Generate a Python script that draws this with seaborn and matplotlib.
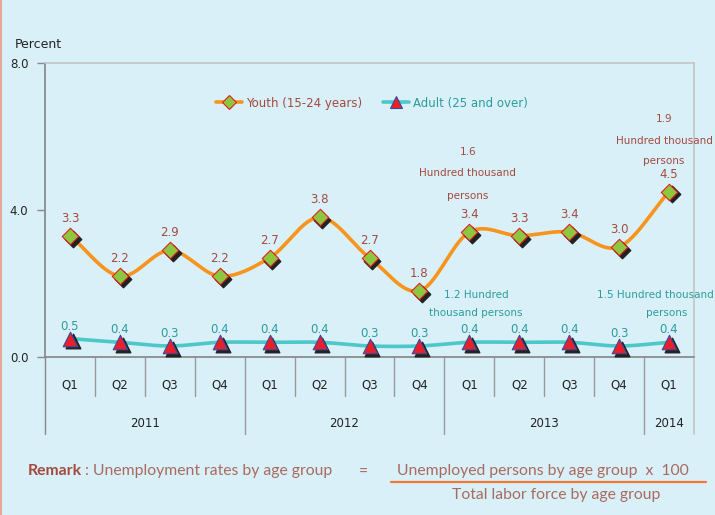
import numpy as np
import pandas as pd
import seaborn as sns
import matplotlib
matplotlib.use("Agg")
import matplotlib.pyplot as plt
from matplotlib import transforms
from matplotlib.lines import Line2D

quarters = ["Q1", "Q2", "Q3", "Q4", "Q1", "Q2", "Q3", "Q4", "Q1", "Q2", "Q3", "Q4", "Q1"]
years = ["2011", "2012", "2013", "2014"]
year_spans = [(0, 3), (4, 7), (8, 11), (12, 12)]
youth = [3.3, 2.2, 2.9, 2.2, 2.7, 3.8, 2.7, 1.8, 3.4, 3.3, 3.4, 3.0, 4.5]
adult = [0.5, 0.4, 0.3, 0.4, 0.4, 0.4, 0.3, 0.3, 0.4, 0.4, 0.4, 0.3, 0.4]
yticks = [0.0, 4.0, 8.0]
youth_notes = [["1.6", "Hundred thousand", "persons"], ["1.9", "Hundred thousand", "persons"]]
adult_notes = [["1.2 Hundred", "thousand persons"], ["1.5 Hundred thousand", "persons"]]

BG = "#DAF0F8"
ORANGE = "#F7941D"
TEAL = "#4CC8C8"
YCOL = "#A24A3E"
ACOL = "#2A9C9C"
RCOL = "#A86A5E"

sns.set_theme(style="white")
plt.rcParams["font.family"] = ["DejaVu Sans"]

fig = plt.figure(figsize=(7.15, 5.15), dpi=100)
fig.patch.set_facecolor(BG)
ax = fig.add_axes([45 / 715, (515 - 357) / 515, (694 - 45) / 715, (357 - 63) / 515])
ax.set_facecolor(BG)

x = np.arange(len(quarters))


def smooth(xs, ys, n=20):
    xs = np.asarray(xs, float)
    ys = np.asarray(ys, float)
    px = np.concatenate([[2 * xs[0] - xs[1]], xs, [2 * xs[-1] - xs[-2]]])
    py = np.concatenate([[2 * ys[0] - ys[1]], ys, [2 * ys[-1] - ys[-2]]])
    ox, oy = [], []
    for i in range(1, len(px) - 2):
        t = np.linspace(0, 1, n, endpoint=False)
        for arr, out in ((px, ox), (py, oy)):
            p0, p1, p2, p3 = arr[i - 1], arr[i], arr[i + 1], arr[i + 2]
            out.extend(0.5 * ((2 * p1) + (-p0 + p2) * t + (2 * p0 - 5 * p1 + 4 * p2 - p3) * t ** 2
                              + (-p0 + 3 * p1 - 3 * p2 + p3) * t ** 3))
    ox.append(xs[-1]); oy.append(ys[-1])
    return np.array(ox), np.array(oy)


for vals, col in ((youth, ORANGE), (adult, TEAL)):
    sx, sy = smooth(x, vals)
    sns.lineplot(x=sx, y=sy, ax=ax, color=col, lw=2.6, sort=False, zorder=2)

shadow = transforms.offset_copy(ax.transData, fig=fig, x=2, y=-2, units="points")
df = pd.DataFrame({"x": x, "youth": youth, "adult": adult})
ax.scatter(df.x, df.youth, marker="D", s=70, color="#222222", transform=shadow, zorder=3)
sns.scatterplot(data=df, x="x", y="youth", ax=ax, marker="D", s=70, color="#8DC63F",
                edgecolor="#E02020", linewidth=0.8, zorder=4)
ax.scatter(df.x, df.adult, marker="^", s=110, color="#222222", transform=shadow, zorder=3)
sns.scatterplot(data=df, x="x", y="adult", ax=ax, marker="^", s=110, color="#E8202A",
                edgecolor="#3A4AA0", linewidth=0.8, zorder=4)

for xi, v in zip(x, youth):
    ax.text(xi, v + 0.3, f"{v:.1f}", ha="center", va="bottom", fontsize=8.5, color=YCOL)
for xi, v in zip(x, adult):
    ax.text(xi, v + 0.16, f"{v:.1f}", ha="center", va="bottom", fontsize=8.5, color=ACOL)

note_pos_y = [([7.97] * 3, [5.57, 5.00, 4.37]), ([11.9] * 3, [6.47, 5.87, 5.32])]
for lines, (xs_, ys_) in zip(youth_notes, note_pos_y):
    for s, xx, yy in zip(lines, xs_, ys_):
        ax.text(xx, yy, s, ha="center", va="center", fontsize=7.5, color=YCOL, clip_on=False)
note_pos_a = [([8.13, 8.13], [1.69, 1.20]), ([11.72, 11.95], [1.69, 1.20])]
for lines, (xs_, ys_) in zip(adult_notes, note_pos_a):
    for s, xx, yy in zip(lines, xs_, ys_):
        ax.text(xx, yy, s, ha="center", va="center", fontsize=7.5, color=ACOL, clip_on=False)

ax.set_xlim(-0.5, 12.5)
ax.set_ylim(0, 8)
ax.set_yticks(yticks)
ax.set_yticklabels([f"{t:.1f}" for t in yticks], fontsize=8.5, color="#222222")
ax.tick_params(axis="y", length=6, width=1, color="#888888", pad=6, left=True)
ax.set_xticks([])
ax.set_xlabel("")
ax.set_ylabel("")
ax.spines["top"].set_color("#C4C4C4")
ax.spines["top"].set_linewidth(1.2)
ax.spines["left"].set_color("#888888")
ax.spines["bottom"].set_color("#888888")
ax.spines["right"].set_visible(False)

tr = transforms.blended_transform_factory(ax.transData, ax.transAxes)
ax.add_line(Line2D([12.5, 12.5], [-0.263, 1.0], transform=tr, color="#C4C4C4", lw=1.2, clip_on=False))
year_bounds = {-0.5, 3.5, 7.5, 11.5}
for b in np.arange(-0.5, 12.0, 1.0):
    if b == -0.5:
        ax.add_line(Line2D([b, b], [-0.263, 0], transform=tr, color="#888888", lw=1, clip_on=False))
    elif b in year_bounds:
        ax.add_line(Line2D([b, b], [-0.263, 0], transform=tr, color="#999999", lw=1, clip_on=False))
    else:
        ax.add_line(Line2D([b, b], [-0.133, 0], transform=tr, color="#999999", lw=1, clip_on=False))
for xi, q in zip(x, quarters):
    ax.text(xi, -0.096, q, transform=tr, ha="center", va="center", fontsize=8.5, color="#222222")
for yr, (a, b) in zip(years, year_spans):
    ax.text((a + b) / 2, -0.225, yr, transform=tr, ha="center", va="center", fontsize=8.5, color="#222222")

fig.text(15 / 715, 1 - 44 / 515, "Percent", ha="left", va="center", fontsize=9, color="#222222")

handles = [
    Line2D([], [], color=ORANGE, lw=2.6, marker="D", markersize=7, markerfacecolor="#8DC63F",
           markeredgecolor="#E02020", markeredgewidth=0.8),
    Line2D([], [], color=TEAL, lw=2.6, marker="^", markersize=9, markerfacecolor="#E8202A",
           markeredgecolor="#3A4AA0", markeredgewidth=0.8),
]
ax.legend(handles, ["Youth (15-24 years)", "Adult (25 and over)"], loc="center",
          bbox_to_anchor=(372 / 715, 1 - 103 / 515), bbox_transform=fig.transFigure, ncol=2,
          frameon=False, fontsize=8.5, labelcolor=[YCOL, ACOL], handlelength=2.2,
          handletextpad=0.3, columnspacing=1.8)

RF = ["Lato", "DejaVu Sans"]
RS = 11.3
yr_ = 1 - 471 / 515
fig.text(28 / 715, yr_, "Remark", ha="left", va="center", fontsize=RS,
         color="#A24A3E", fontweight="bold", family=RF)
fig.text(85 / 715, yr_, ": Unemployment rates by age group", ha="left", va="center",
         fontsize=RS, color=RCOL, family=RF)
fig.text(363 / 715, 1 - 473 / 515, "=", ha="center", va="center", fontsize=RS, color=RCOL, family=RF)
fig.text(543 / 715, yr_, "Unemployed persons by age group  x  100", ha="center",
         va="center", fontsize=RS, color=RCOL, family=RF)
fig.text(556 / 715, 1 - 495 / 515, "Total labor force by age group", ha="center",
         va="center", fontsize=RS, color=RCOL, family=RF)
fig.add_artist(Line2D([391 / 715, 706 / 715], [1 - 482 / 515, 1 - 482 / 515],
                      transform=fig.transFigure, color="#F07830", lw=1.6))
fig.add_artist(Line2D([0.7 / 715, 0.7 / 715], [0, 1], transform=fig.transFigure,
                      color="#E8A898", lw=1.5))

fig.savefig("out.png", dpi=100, facecolor=BG)
